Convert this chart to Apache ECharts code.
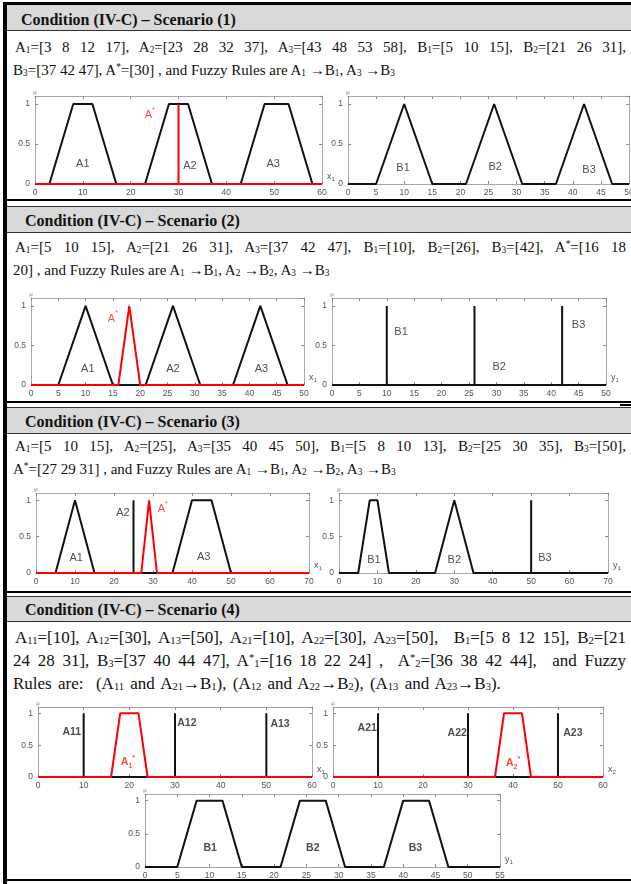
<!DOCTYPE html>
<html>
<head>
<meta charset="utf-8">
<script src="https://cdn.jsdelivr.net/npm/echarts@6/dist/echarts.min.js"></script>
<style>
  html, body { margin: 0; padding: 0; background: #fff; }
  #page { position: relative; width: 631px; height: 884px; overflow: hidden; background: #fff; }
  .rule { position: absolute; background: #000; }
  .band { position: absolute; left: 7px; right: 0; background: #d9d9d9; }
  .title { position: absolute; font-family: "Liberation Serif", serif; font-weight: bold; font-size: 16px; line-height: 16px; color: #111; white-space: nowrap; }
  .ln { position: absolute; left: 13px; width: 613px; font-family: "Liberation Serif", serif; font-size: 15px; line-height: 17px; color: #111; }
  .ln.big { font-size: 17px; }
  .ln.j { text-align: justify; text-align-last: justify; }
  .ln.first { padding-left: 2px; width: 611px; }
  sub { font-size: 62%; vertical-align: -1px; line-height: 0; }
  sup { font-size: 62%; vertical-align: 5px; line-height: 0; }
  #chart { position: absolute; left: 0; top: 0; width: 631px; height: 884px; }
</style>
</head>
<body>
<div id="page">
  <!-- table frame -->
  <div class="rule" style="left:3px;right:0;top:2px;height:3px"></div>
  <div class="rule" style="left:3px;width:4px;top:2px;bottom:0"></div>

  <!-- Scenario 1 -->
  <div class="band" style="top:5px;height:25px"></div>
  <div class="rule" style="left:7px;right:0;top:30px;height:1px;background:#333"></div>
  <div class="title" style="left:21px;top:12px">Condition (IV-C) – Scenario (1)</div>
  <div class="ln j first" style="top:39px">A<sub>1</sub>=[3 8 12 17], A<sub>2</sub>=[23 28 32 37], A<sub>3</sub>=[43 48 53 58], B<sub>1</sub>=[5 10 15], B<sub>2</sub>=[21 26 31],</div>
  <div class="ln" style="top:62px">B<sub>3</sub>=[37 42 47], A<sup>*</sup>=[30] , and Fuzzy Rules are A<sub>1</sub> →B<sub>1</sub>, A<sub>3</sub> →B<sub>3</sub></div>
  <div class="rule" style="left:7px;right:0;top:199px;height:2px"></div>

  <!-- Scenario 2 -->
  <div class="rule" style="left:7px;right:0;top:206px;height:1px;background:#333"></div>
  <div class="band" style="top:207px;height:25px"></div>
  <div class="rule" style="left:7px;right:0;top:232px;height:1px;background:#333"></div>
  <div class="title" style="left:25px;top:213px">Condition (IV-C) – Scenario (2)</div>
  <div class="ln j first" style="top:239px">A<sub>1</sub>=[5 10 15], A<sub>2</sub>=[21 26 31], A<sub>3</sub>=[37 42 47], B<sub>1</sub>=[10], B<sub>2</sub>=[26], B<sub>3</sub>=[42], A<sup>*</sup>=[16 18</div>
  <div class="ln" style="top:262px">20] , and Fuzzy Rules are A<sub>1</sub> →B<sub>1</sub>, A<sub>2</sub> →B<sub>2</sub>, A<sub>3</sub> →B<sub>3</sub></div>
  <div class="rule" style="left:7px;right:0;top:401px;height:2px"></div>
  <div class="rule" style="left:620px;right:0;top:404px;height:2px"></div>

  <!-- Scenario 3 -->
  <div class="rule" style="left:7px;right:0;top:407px;height:1px;background:#333"></div>
  <div class="band" style="top:408px;height:25px"></div>
  <div class="rule" style="left:7px;right:0;top:433px;height:1px;background:#333"></div>
  <div class="title" style="left:25px;top:414px">Condition (IV-C) – Scenario (3)</div>
  <div class="ln j first" style="top:438px">A<sub>1</sub>=[5 10 15], A<sub>2</sub>=[25], A<sub>3</sub>=[35 40 45 50], B<sub>1</sub>=[5 8 10 13], B<sub>2</sub>=[25 30 35], B<sub>3</sub>=[50],</div>
  <div class="ln" style="top:461px">A<sup>*</sup>=[27 29 31] , and Fuzzy Rules are A<sub>1</sub> →B<sub>1</sub>, A<sub>2</sub> →B<sub>2</sub>, A<sub>3</sub> →B<sub>3</sub></div>
  <div class="rule" style="left:7px;right:0;top:591px;height:2px"></div>

  <!-- Scenario 4 -->
  <div class="rule" style="left:7px;right:0;top:596px;height:1px;background:#333"></div>
  <div class="band" style="top:597px;height:24px"></div>
  <div class="rule" style="left:7px;right:0;top:621px;height:1px;background:#333"></div>
  <div class="title" style="left:25px;top:602px">Condition (IV-C) – Scenario (4)</div>
  <div class="ln big j first" style="top:629px">A<sub>11</sub>=[10], A<sub>12</sub>=[30], A<sub>13</sub>=[50], A<sub>21</sub>=[10], A<sub>22</sub>=[30], A<sub>23</sub>=[50],&nbsp; B<sub>1</sub>=[5 8 12 15], B<sub>2</sub>=[21</div>
  <div class="ln big j" style="top:652px">24 28 31], B<sub>3</sub>=[37 40 44 47], A<sup>*</sup><sub>1</sub>=[16 18 22 24] ,&nbsp; A<sup>*</sup><sub>2</sub>=[36 38 42 44],&nbsp; and Fuzzy</div>
  <div class="ln big" style="top:675px;word-spacing:2px">Rules are:&nbsp; (A<sub>11</sub> and A<sub>21</sub>→B<sub>1</sub>), (A<sub>12</sub> and A<sub>22</sub>→B<sub>2</sub>), (A<sub>13</sub> and A<sub>23</sub>→B<sub>3</sub>).</div>
  <div class="rule" style="left:3px;right:0;top:879px;height:2px"></div>

  <div id="chart"></div>
</div>

<script>
// ---- membership function parameters (triangular [a b c], trapezoidal [a b c d], singleton [a]) ----
// Scenario 1
const s1A = [[3, 8, 12, 17], [23, 28, 32, 37], [43, 48, 53, 58]];
const s1B = [[5, 10, 15], [21, 26, 31], [37, 42, 47]];
const s1AStar = [30];
// Scenario 2
const s2A = [[5, 10, 15], [21, 26, 31], [37, 42, 47]];
const s2B = [[10], [26], [42]];
const s2AStar = [16, 18, 20];
// Scenario 3
const s3A = [[5, 10, 15], [25], [35, 40, 45, 50]];
const s3B = [[5, 8, 10, 13], [25, 30, 35], [50]];
const s3AStar = [27, 29, 31];
// Scenario 4
const s4A1 = [[10], [30], [50]];
const s4A2 = [[10], [30], [50]];
const s4B = [[5, 8, 12, 15], [21, 24, 28, 31], [37, 40, 44, 47]];
const s4A1Star = [16, 18, 22, 24];
const s4A2Star = [36, 38, 42, 44];

// ---- axis ranges and tick steps, one per panel ----
const xMaxes = [60, 50, 50, 50, 70, 70, 60, 60, 55];
const xSteps = [10, 5, 5, 5, 10, 10, 10, 10, 5];
const yTicks = [0, 0.5, 1];
const yMax = 1.1;

// ---- set names shown inside each panel ----
const s1ANames = ['A1', 'A2', 'A3'];
const s1BNames = ['B1', 'B2', 'B3'];
const s2ANames = ['A1', 'A2', 'A3'];
const s2BNames = ['B1', 'B2', 'B3'];
const s3ANames = ['A1', 'A2', 'A3'];
const s3BNames = ['B1', 'B2', 'B3'];
const s4A1Names = ['A11', 'A12', 'A13'];
const s4A2Names = ['A21', 'A22', 'A23'];
const s4BNames = ['B1', 'B2', 'B3'];

// Builds the membership polyline of a group of sets over [lo, hi]
function mfPolyline(sets, lo, hi) {
  const pts = [[lo, 0]];
  sets.slice().sort((a, b) => a[0] - b[0]).forEach(p => {
    if (p.length === 1) pts.push([p[0], 0], [p[0], 1], [p[0], 0]);
    else if (p.length === 3) pts.push([p[0], 0], [p[1], 1], [p[2], 0]);
    else pts.push([p[0], 0], [p[1], 1], [p[2], 1], [p[3], 0]);
  });
  pts.push([hi, 0]);
  return pts;
}

// ---- panel layout: plot box [left, top, right, zeroLine] in px and where each name sits ----
const panels = [
  { box: [35, 96, 322, 184], black: s1A, red: s1AStar, axis: ['x', '1'], bold: false,
    names: s1ANames, at: [[10, 0.25], [32.4, 0.22], [49.8, 0.25]], star: { text: '{r|A}{rp|*}', at: [24, 0.88] } },
  { box: [348, 96, 629, 184], black: s1B, red: null, axis: ['y', '1'], bold: false,
    names: s1BNames, at: [[9.8, 0.2], [26.2, 0.21], [42.9, 0.18]] },
  { box: [31, 298, 304, 385], black: s2A, red: s2AStar, axis: ['x', '1'], bold: false,
    names: s2ANames, at: [[10.4, 0.2], [26, 0.2], [42.2, 0.2]], star: { text: '{r|A}{rp|*}', at: [15, 0.86] } },
  { box: [332, 298, 606, 385], black: s2B, red: null, axis: ['y', '1'], bold: false,
    names: s2BNames, at: [[12.6, 0.67], [30.5, 0.23], [45, 0.76]] },
  { box: [36, 493, 309, 573], black: s3A, red: s3AStar, axis: ['x', '1'], bold: false,
    names: s3ANames, at: [[10.3, 0.2], [22.3, 0.82], [43, 0.22]], star: { text: '{r|A}{rp|*}', at: [32.5, 0.9] } },
  { box: [339, 493, 608, 573], black: s3B, red: null, axis: ['y', '1'], bold: false,
    names: s3BNames, at: [[9.1, 0.18], [30, 0.18], [53.6, 0.2]] },
  { box: [38, 707, 312, 777], black: s4A1, red: s4A1Star, axis: ['x', '1'], bold: true,
    names: s4A1Names, at: [[7.4, 0.7], [32.6, 0.84], [53, 0.83]], star: { text: '{rb|A}{rbs|1}{rbp|*}', at: [19.7, 0.24] } },
  { box: [333, 707, 603, 777], black: s4A2, red: s4A2Star, axis: ['x', '2'], bold: true,
    names: s4A2Names, at: [[7.6, 0.77], [27.6, 0.69], [53.3, 0.69]], star: { text: '{rb|A}{rbs|2}{rbp|*}', at: [40, 0.22] } },
  { box: [145, 794, 500, 867], black: s4B, red: null, axis: ['y', '1'], bold: true,
    names: s4BNames, at: [[10.1, 0.29], [26, 0.29], [41.9, 0.29]] }
];

const tickFont = { fontFamily: 'Liberation Sans', fontSize: 8.5, color: '#555' };
const labelRich = {
  n: { fontFamily: 'Liberation Sans', fontSize: 11, color: '#222', lineHeight: 13 },
  b: { fontFamily: 'Liberation Sans', fontSize: 10.5, fontWeight: 'bold', color: '#222', lineHeight: 13 },
  r: { fontFamily: 'Liberation Sans', fontSize: 11, color: '#ff1a1a', lineHeight: 14, verticalAlign: 'bottom' },
  rp: { fontFamily: 'Liberation Sans', fontSize: 7, color: '#ff1a1a', lineHeight: 14, verticalAlign: 'top' },
  rb: { fontFamily: 'Liberation Sans', fontSize: 10.5, fontWeight: 'bold', color: '#ff1a1a', lineHeight: 15, verticalAlign: 'middle' },
  rbs: { fontFamily: 'Liberation Sans', fontSize: 7, fontWeight: 'bold', color: '#ff1a1a', lineHeight: 15, verticalAlign: 'bottom' },
  rbp: { fontFamily: 'Liberation Sans', fontSize: 7, fontWeight: 'bold', color: '#ff1a1a', lineHeight: 15, verticalAlign: 'top' }
};

const option = { animation: false, grid: [], xAxis: [], yAxis: [], series: [] };

panels.forEach((p, i) => {
  const [l, t, r, b] = p.box;
  const xMax = xMaxes[i], step = xSteps[i];
  option.grid.push({ left: l, top: t, width: r - l, height: b - t, outerBoundsMode: 'none', containLabel: false });
  const axisLine = { show: true, onZero: false, lineStyle: { color: '#a8a8a8', width: 1 } };
  const tick = { show: true, inside: true, length: 3, lineStyle: { color: '#8a8a8a', width: 1 } };
  const xb = option.xAxis.length;
  option.xAxis.push({
    type: 'value', gridIndex: i, position: 'bottom', min: 0, max: xMax, interval: step,
    axisLine, axisTick: tick, splitLine: { show: false },
    axisLabel: Object.assign({ margin: 4, hideOverlap: false, showMaxLabel: true }, tickFont),
    name: '{v|' + p.axis[0] + '}{s|' + p.axis[1] + '}', nameLocation: 'end', nameGap: 5,
    nameTextStyle: { align: 'left', verticalAlign: 'bottom', padding: [0, 0, 2, 0],
      rich: { v: { fontFamily: 'Liberation Sans', fontSize: 9, color: '#555', lineHeight: 11 },
              s: { fontFamily: 'Liberation Sans', fontSize: 6, color: '#555', lineHeight: 11, verticalAlign: 'bottom' } } }
  });
  option.xAxis.push({
    type: 'value', gridIndex: i, position: 'top', min: 0, max: xMax, interval: step,
    axisLine, axisTick: tick, axisLabel: { show: false }, splitLine: { show: false }
  });
  const yl = option.yAxis.length;
  option.yAxis.push({
    type: 'value', gridIndex: i, position: 'left', min: 0, max: yMax, interval: 0.5,
    axisLine, axisTick: tick, splitLine: { show: false },
    axisLabel: Object.assign({ margin: 5, showMaxLabel: false,
      formatter: v => (yTicks.indexOf(v) >= 0 ? String(v) : '') }, tickFont),
    name: 'μ', nameLocation: 'end', nameGap: 1,
    nameTextStyle: { fontFamily: 'Liberation Sans', fontSize: 6, color: '#777', align: 'center' }
  });
  option.yAxis.push({
    type: 'value', gridIndex: i, position: 'right', min: 0, max: yMax, interval: 0.5,
    axisLine, axisTick: tick, axisLabel: { show: false }, splitLine: { show: false }
  });

  option.series.push({
    type: 'line', xAxisIndex: xb, yAxisIndex: yl, data: mfPolyline(p.black, 0, xMax),
    symbol: 'none', z: 3, lineStyle: { color: '#111', width: 2 }, silent: true
  });
  if (p.red) {
    option.series.push({
      type: 'line', xAxisIndex: xb, yAxisIndex: yl, data: mfPolyline([p.red], 0, xMax),
      symbol: 'none', z: 4, lineStyle: { color: '#ff0000', width: 2 }, silent: true
    });
  }
  const tags = p.names.map((n, k) => ({ value: p.at[k], text: '{' + (p.bold ? 'b' : 'n') + '|' + n + '}' }));
  if (p.star) tags.push({ value: p.star.at, text: p.star.text });
  option.series.push({
    type: 'scatter', xAxisIndex: xb, yAxisIndex: yl, symbolSize: 1, z: 5, silent: true,
    itemStyle: { color: 'rgba(0,0,0,0)' },
    data: tags.map(tg => ({ value: tg.value, label: { formatter: tg.text } })),
    label: { show: true, position: 'inside', align: 'center', verticalAlign: 'middle', rich: labelRich }
  });
});

const chart = echarts.init(document.getElementById('chart'), null, { renderer: 'canvas' });
chart.setOption(option);
</script>
</body>
</html>
